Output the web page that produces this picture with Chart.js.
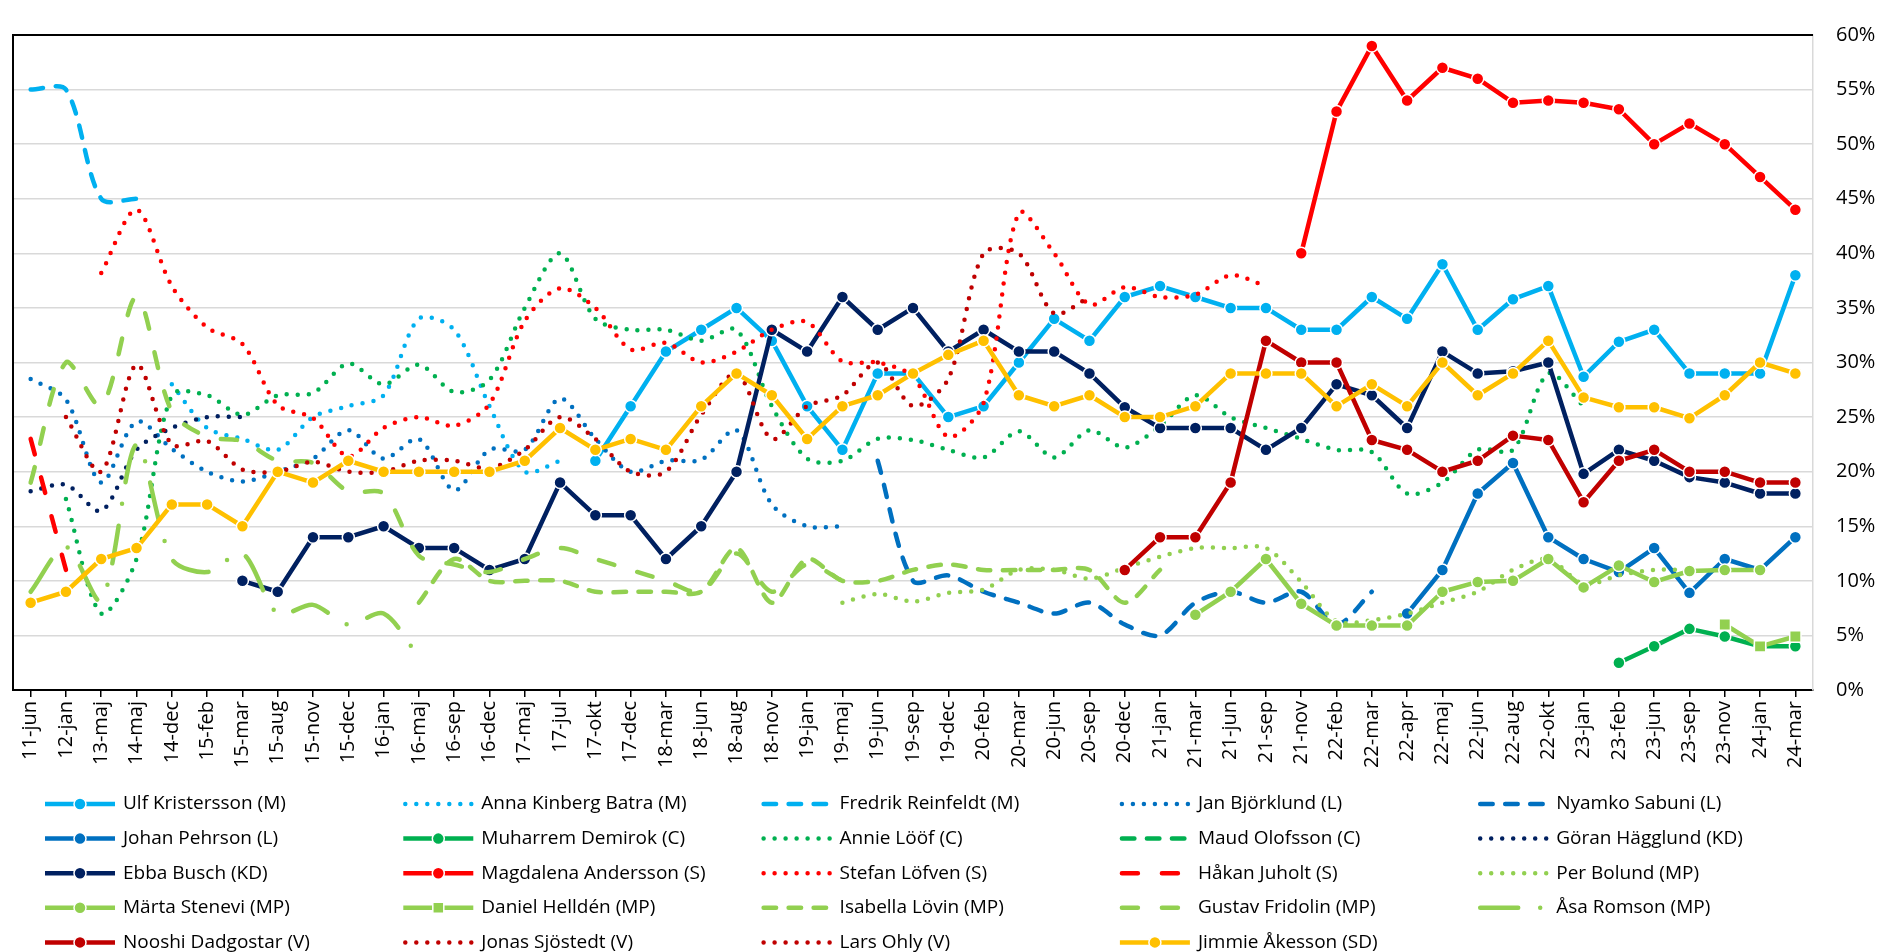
<!DOCTYPE html>
<html>
<head>
<meta charset="utf-8">
<script src="https://cdn.jsdelivr.net/npm/chart.js@4"></script>
<style>
  html,body{margin:0;padding:0;background:#fff;}
  #wrap{width:1881px;height:952px;position:relative;}
</style>
</head>
<body>
<div id="wrap"><canvas id="chart"></canvas></div>
<script>
// kategorier (x-axeln)
const labels = ['11-jun','12-jan','13-maj','14-maj','14-dec','15-feb','15-mar','15-aug','15-nov','15-dec',
  '16-jan','16-maj','16-sep','16-dec','17-maj','17-jul','17-okt','17-dec','18-mar','18-jun','18-aug',
  '18-nov','19-jan','19-maj','19-jun','19-sep','19-dec','20-feb','20-mar','20-jun','20-sep','20-dec',
  '21-jan','21-mar','21-jun','21-sep','21-nov','22-feb','22-mar','22-apr','22-maj','22-jun','22-aug',
  '22-okt','23-jan','23-feb','23-jun','23-sep','23-nov','24-jan','24-mar'];

const yTicks = [0,5,10,15,20,25,30,35,40,45,50,55,60];

// värden per partiledare: startindex + värden i procent
const ulf       = {start:16, vals:[21,26,31,33,35,32,26,22,29,29,25,26,30,34,32,36,37,36,35,35,33,33,36,34,39,33,35.8,37,28.7,31.9,33,29,29,29,38]};
const anna      = {start:4,  vals:[28,24,23,22,25,26,27,34,33,26,20,21]};
const fredrik   = {start:0,  vals:[55,55,45,45]};
const jan       = {start:0,  vals:[28.5,26.6,19,24.6,22.1,20,19.1,20,21.2,23.8,21.2,23,18.3,22,22,26.7,23,20,21,21.1,23.8,17,15,15]};
const nyamko    = {start:24, vals:[21,10,10.5,9,8,7,8,6,5,8,9,8,9,6,9]};
const johan     = {start:39, vals:[7,11,18,20.8,14,12,10.8,13,8.9,12,11,14]};
const muharrem  = {start:45, vals:[2.5,4,5.6,4.9,4,4]};
const annie     = {start:1,  vals:[17.5,7,12,27,27,25.2,27,27.2,29.9,28,29.8,27.3,28.4,35,40,34,33,33,32,33,26,21.2,21,23,22.9,22,21.3,23.7,21.3,23.8,22.2,24.2,27,25,24,23,22,21.8,18,19,22,22,29,26]};
const maud      = {start:0,  vals:[]};
const goran     = {start:0,  vals:[18.2,18.8,16.4,22,24,25,25]};
const ebba      = {start:6,  vals:[10,9,14,14,15,13,13,11,12,19,16,16,12,15,20,33,31,36,33,35,31,33,31,31,29,25.9,24,24,24,22,24,28,27,24,31,29,29.2,30,19.8,22,21,19.5,19,18,18]};
const magdalena = {start:36, vals:[40,53,59,54,57,56,53.8,54,53.8,53.2,50,51.9,50,47,44]};
const stefan    = {start:2,  vals:[38.2,44,37,33.2,31.7,26.1,24.9,21.4,24,25,24.2,26.2,33.8,36.8,35,31.2,31.8,30,31,33,33.7,30.1,30,28.7,23.2,26.3,43.7,40,35.3,36.9,36,36.2,38,37]};
const hakan     = {start:0,  vals:[23,11]};
const per       = {start:23, vals:[8,8.8,8.1,8.9,9.2,11,11,10.2,11.2,12.2,13,13,13,9.9,6.3,6.4,7,8,9,11,12,9.7,10.5,11,11]};
const marta     = {start:33, vals:[6.9,9,12,7.9,5.9,5.9,5.9,9,9.9,10,12,9.4,11.4,9.9,10.9,11,11]};
const daniel    = {start:48, vals:[6,4,4.9]};
const isabella  = {start:11, vals:[8,12,10,10,10,9,9,9,9,13,8,12,10,10,11,11.5,11,11,11,11,8,11]};
const gustav    = {start:0,  vals:[19,30,26,36,25.5,23.2,22.8,21,20.8,18.2,18,12.3,11.5,10.8,12,13,12,11,10,9,12.5,9,11.5,10]};
const asa       = {start:0,  vals:[9,13.1,8.2,22.5,12,10.8,12.5,7,7.8,6,7,3]};
const nooshi    = {start:31, vals:[11,14,14,19,32,30,30,22.9,22,20,21,23.3,22.9,17.2,21,22,20,20,19,19]};
const jonas     = {start:1,  vals:[25,20,29.8,22.5,22.8,20.2,20,20.9,20,20,21,21,20.3,22,25,23,20,20,25.2,29,23,26,27,30,26,28.5,40,40,34.5,36]};
const lars      = {start:0,  vals:[]};
const jimmie    = {start:0,  vals:[8,9,12,13,17,17,15,20,19,21,20,20,20,20,21,24,22,23,22,26,29,27,23,26,27,29,30.7,32,27,26,27,25,25,26,29,29,29,26,28,26,30,27,29,32,26.8,25.9,25.9,24.9,27,30,29]};

const C = {M:'#00B0F0', L:'#0070C0', C:'#00B050', KD:'#002060', S:'#FF0000', MP:'#92D050', V:'#C00000', SD:'#FFC000'};

// linjestilar
const STYLES = {
  solid:   {dash:[], tension:0},
  dot:     {dash:[0,11], tension:0.3},
  dash:    {dash:[12.5,12.5], tension:0.3},
  longdash:{dash:[16,24], tension:0.3},
  dashdot: {dash:[38,22,0,22], tension:0.3}
};

const series = [
  ['Ulf Kristersson (M)', C.M, 'solid', 'circle', ulf],
  ['Anna Kinberg Batra (M)', C.M, 'dot', null, anna],
  ['Fredrik Reinfeldt (M)', C.M, 'dash', null, fredrik],
  ['Jan Björklund (L)', C.L, 'dot', null, jan],
  ['Nyamko Sabuni (L)', C.L, 'dash', null, nyamko],
  ['Johan Pehrson (L)', C.L, 'solid', 'circle', johan],
  ['Muharrem Demirok (C)', C.C, 'solid', 'circle', muharrem],
  ['Annie Lööf (C)', C.C, 'dot', null, annie],
  ['Maud Olofsson (C)', C.C, 'dash', null, maud],
  ['Göran Hägglund (KD)', C.KD, 'dot', null, goran],
  ['Ebba Busch (KD)', C.KD, 'solid', 'circle', ebba],
  ['Magdalena Andersson (S)', C.S, 'solid', 'circle', magdalena],
  ['Stefan Löfven (S)', C.S, 'dot', null, stefan],
  ['Håkan Juholt (S)', C.S, 'longdash', null, hakan],
  ['Per Bolund (MP)', C.MP, 'dot', null, per],
  ['Märta Stenevi (MP)', C.MP, 'solid', 'circle', marta],
  ['Daniel Helldén (MP)', C.MP, 'solid', 'rect', daniel],
  ['Isabella Lövin (MP)', C.MP, 'dash', null, isabella],
  ['Gustav Fridolin (MP)', C.MP, 'longdash', null, gustav],
  ['Åsa Romson (MP)', C.MP, 'dashdot', null, asa],
  ['Nooshi Dadgostar (V)', C.V, 'solid', 'circle', nooshi],
  ['Jonas Sjöstedt (V)', C.V, 'dot', null, jonas],
  ['Lars Ohly (V)', C.V, 'dot', null, lars],
  ['Jimmie Åkesson (SD)', C.SD, 'solid', 'circle', jimmie]
];

function fill(s){
  const a = labels.map(()=>null);
  s.vals.forEach((v,k)=>{ a[s.start+k] = v; });
  return a;
}

const datasets = series.map(([label,color,style,marker,s],i)=>{
  const st = STYLES[style];
  return {
    label, data: fill(s),
    borderColor: color, backgroundColor: color,
    borderWidth: 4.5,
    borderDash: st.dash,
    borderCapStyle: style==='solid' ? 'butt' : 'round',
    borderJoinStyle: 'round',
    tension: st.tension,
    pointStyle: marker || 'circle',
    pointRadius: marker==='rect' ? 8 : (marker ? 6 : 0),
    pointHoverRadius: marker ? 6 : 0,
    pointBorderColor: '#fff',
    pointBorderWidth: 1.5,
    pointBackgroundColor: color,
    spanGaps: false,
    fill: false,
    order: series.length - i,
    _marker: marker
  };
});

// ram: svart över- och vänsterkant
const frame = {
  id:'frame',
  beforeDatasetsDraw(chart){
    const {ctx, chartArea:a} = chart;
    ctx.save();
    ctx.strokeStyle = '#000'; ctx.lineWidth = 2;
    ctx.beginPath();
    ctx.moveTo(a.left, a.bottom); ctx.lineTo(a.left, a.top); ctx.lineTo(a.right, a.top);
    ctx.stroke();
    ctx.restore();
  }
};

// legend i 5 kolumner
const gridLegend = {
  id:'gridLegend',
  afterDraw(chart){
    const ctx = chart.ctx;
    ctx.save();
    ctx.font = '19px "Open Sans", sans-serif';
    ctx.textBaseline = 'middle';
    ctx.fillStyle = '#000';
    chart.data.datasets.forEach((ds,i)=>{
      const col = i % 5, row = Math.floor(i/5);
      const tx = 123 + col*358.3;
      const y = 804 + row*34.6;
      const x0 = tx - 78, x1 = tx - 8;
      ctx.strokeStyle = ds.borderColor;
      ctx.lineWidth = ds.borderWidth;
      ctx.setLineDash(ds.borderDash);
      ctx.lineCap = ds.borderCapStyle;
      ctx.beginPath(); ctx.moveTo(x0 + (ds.borderCapStyle==='round'?2:0), y); ctx.lineTo(x1, y); ctx.stroke();
      ctx.setLineDash([]);
      if(ds._marker){
        const cx = (x0+x1)/2;
        ctx.fillStyle = ds.borderColor;
        ctx.strokeStyle = '#fff'; ctx.lineWidth = 1.5;
        ctx.beginPath();
        if(ds._marker==='rect'){ ctx.rect(cx-5.5, y-5.5, 11, 11); }
        else { ctx.arc(cx, y, 6, 0, Math.PI*2); }
        ctx.fill(); ctx.stroke();
      }
      ctx.fillStyle = '#000';
      ctx.fillText(ds.label, tx, y);
    });
    ctx.restore();
  }
};

new Chart(document.getElementById('chart'), {
  type:'line',
  data:{labels, datasets},
  options:{
    responsive:true, maintainAspectRatio:false, animation:false,
    layout:{padding:{left:13, top:21, right:0, bottom:0}},
    plugins:{legend:{display:false}, tooltip:{enabled:false}},
    scales:{
      x:{
        offset:true,
        afterFit(s){ s.height = 262; },
        grid:{display:true, drawOnChartArea:false, offset:false, tickLength:7, color:'#000', lineWidth:1.5},
        border:{color:'#000', width:2},
        ticks:{autoSkip:false, minRotation:90, maxRotation:90, padding:4, color:'#000',
          font:{family:'"Open Sans", sans-serif', size:20}}
      },
      y:{
        position:'right', min:0, max:60,
        afterFit(s){ s.width = 68; },
        afterBuildTicks(s){ s.ticks = yTicks.map(v=>({value:v})); },
        grid:{color:'#D9D9D9', lineWidth:1.5, drawTicks:false},
        border:{color:'#D9D9D9', width:1.5},
        ticks:{padding:23, color:'#000', callback:v=>v+'%',
          font:{family:'"Open Sans", sans-serif', size:20}}
      }
    }
  },
  plugins:[frame, gridLegend]
});
</script>
</body>
</html>
